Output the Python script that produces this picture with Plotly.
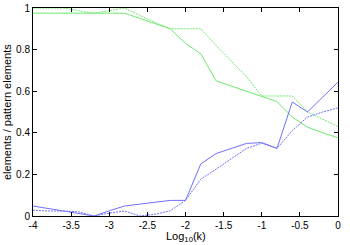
import plotly.graph_objects as go

log_k = [-4.0, -3.8, -3.6, -3.4, -3.2, -3.0, -2.8, -2.6, -2.4, -2.2, -2.0,
         -1.8, -1.6, -1.4, -1.2, -1.0, -0.8, -0.6, -0.4, -0.2, 0.0]

green_solid = [0.975, 0.975, 0.975, 0.975, 0.975, 0.975, 0.975, 0.95, 0.925, 0.9, 0.83,
               0.78, 0.65, 0.625, 0.60, 0.577, 0.55, 0.476, 0.427, 0.40, 0.376]
green_dashed = [1.0, 1.0, 1.0, 0.987, 0.975, 0.987, 1.0, 0.965, 0.93, 0.9, 0.9,
                0.9, 0.82, 0.745, 0.67, 0.577, 0.577, 0.577, 0.50, 0.465, 0.43]
blue_solid = [0.048, 0.036, 0.024, 0.012, 0.0, 0.025, 0.048, 0.057, 0.066, 0.075, 0.075,
              0.25, 0.30, 0.325, 0.349, 0.353, 0.325, 0.548, 0.50, 0.572, 0.644]
blue_dashed = [0.028, 0.024, 0.024, 0.02, 0.0, 0.014, 0.024, 0.0, 0.008, 0.025, 0.075,
               0.177, 0.225, 0.275, 0.325, 0.35, 0.325, 0.41, 0.476, 0.50, 0.52]

x_ticks = [-4, -3.5, -3, -2.5, -2, -1.5, -1, -0.5, 0]
x_tick_labels = ["-4", "-3.5", "-3", "-2.5", "-2", "-1.5", "-1", "-0.5", "0"]
y_ticks = [0, 0.2, 0.4, 0.6, 0.8, 1]
y_tick_labels = ["0", "0.2", "0.4", "0.6", "0.8", "1"]

GREEN = "#6fe86f"
BLUE = "#7070ff"

fig = go.Figure()
fig.add_trace(go.Scatter(x=log_k, y=green_dashed, mode="lines",
                         line=dict(color=GREEN, width=1, dash="2px,1px")))
fig.add_trace(go.Scatter(x=log_k, y=green_solid, mode="lines",
                         line=dict(color=GREEN, width=1)))
fig.add_trace(go.Scatter(x=log_k, y=blue_dashed, mode="lines",
                         line=dict(color=BLUE, width=1, dash="2px,1px")))
fig.add_trace(go.Scatter(x=log_k, y=blue_solid, mode="lines",
                         line=dict(color=BLUE, width=1)))

tick_font = dict(family="Liberation Sans, Arial, sans-serif", size=10, color="black")
title_font = dict(family="Liberation Sans, Arial, sans-serif", size=11, color="black")

fig.update_layout(
    width=350, height=245,
    margin=dict(l=33, r=12, t=8, b=29, autoexpand=False),
    paper_bgcolor="white", plot_bgcolor="white",
    showlegend=False,
    font=tick_font,
    xaxis=dict(range=[-4, 0], tickvals=x_ticks, ticktext=x_tick_labels,
               ticks="inside", ticklen=4, tickcolor="black", mirror="ticks",
               showline=True, linecolor="black", linewidth=1, showgrid=False,
               zeroline=False, tickfont=tick_font, automargin=False),
    yaxis=dict(range=[0, 1], tickvals=y_ticks, ticktext=y_tick_labels,
               ticks="inside", ticklen=4, tickcolor="black", mirror="ticks",
               showline=True, linecolor="black", linewidth=1, showgrid=False,
               zeroline=False, tickfont=tick_font, automargin=False),
    annotations=[
        dict(text="Log<sub>10</sub>(k)", xref="paper", yref="paper", x=0.5, y=0,
             xanchor="center", yanchor="middle", yshift=-21, showarrow=False,
             font=title_font),
        dict(text="elements / pattern elements", xref="paper", yref="paper", x=0, y=0.5,
             xanchor="center", yanchor="middle", xshift=-26, textangle=-90,
             showarrow=False, font=title_font),
    ],
)

fig.write_html("out.html", config={"displayModeBar": False},
               post_script="document.body.style.margin='0px';document.body.style.overflow='hidden';")
